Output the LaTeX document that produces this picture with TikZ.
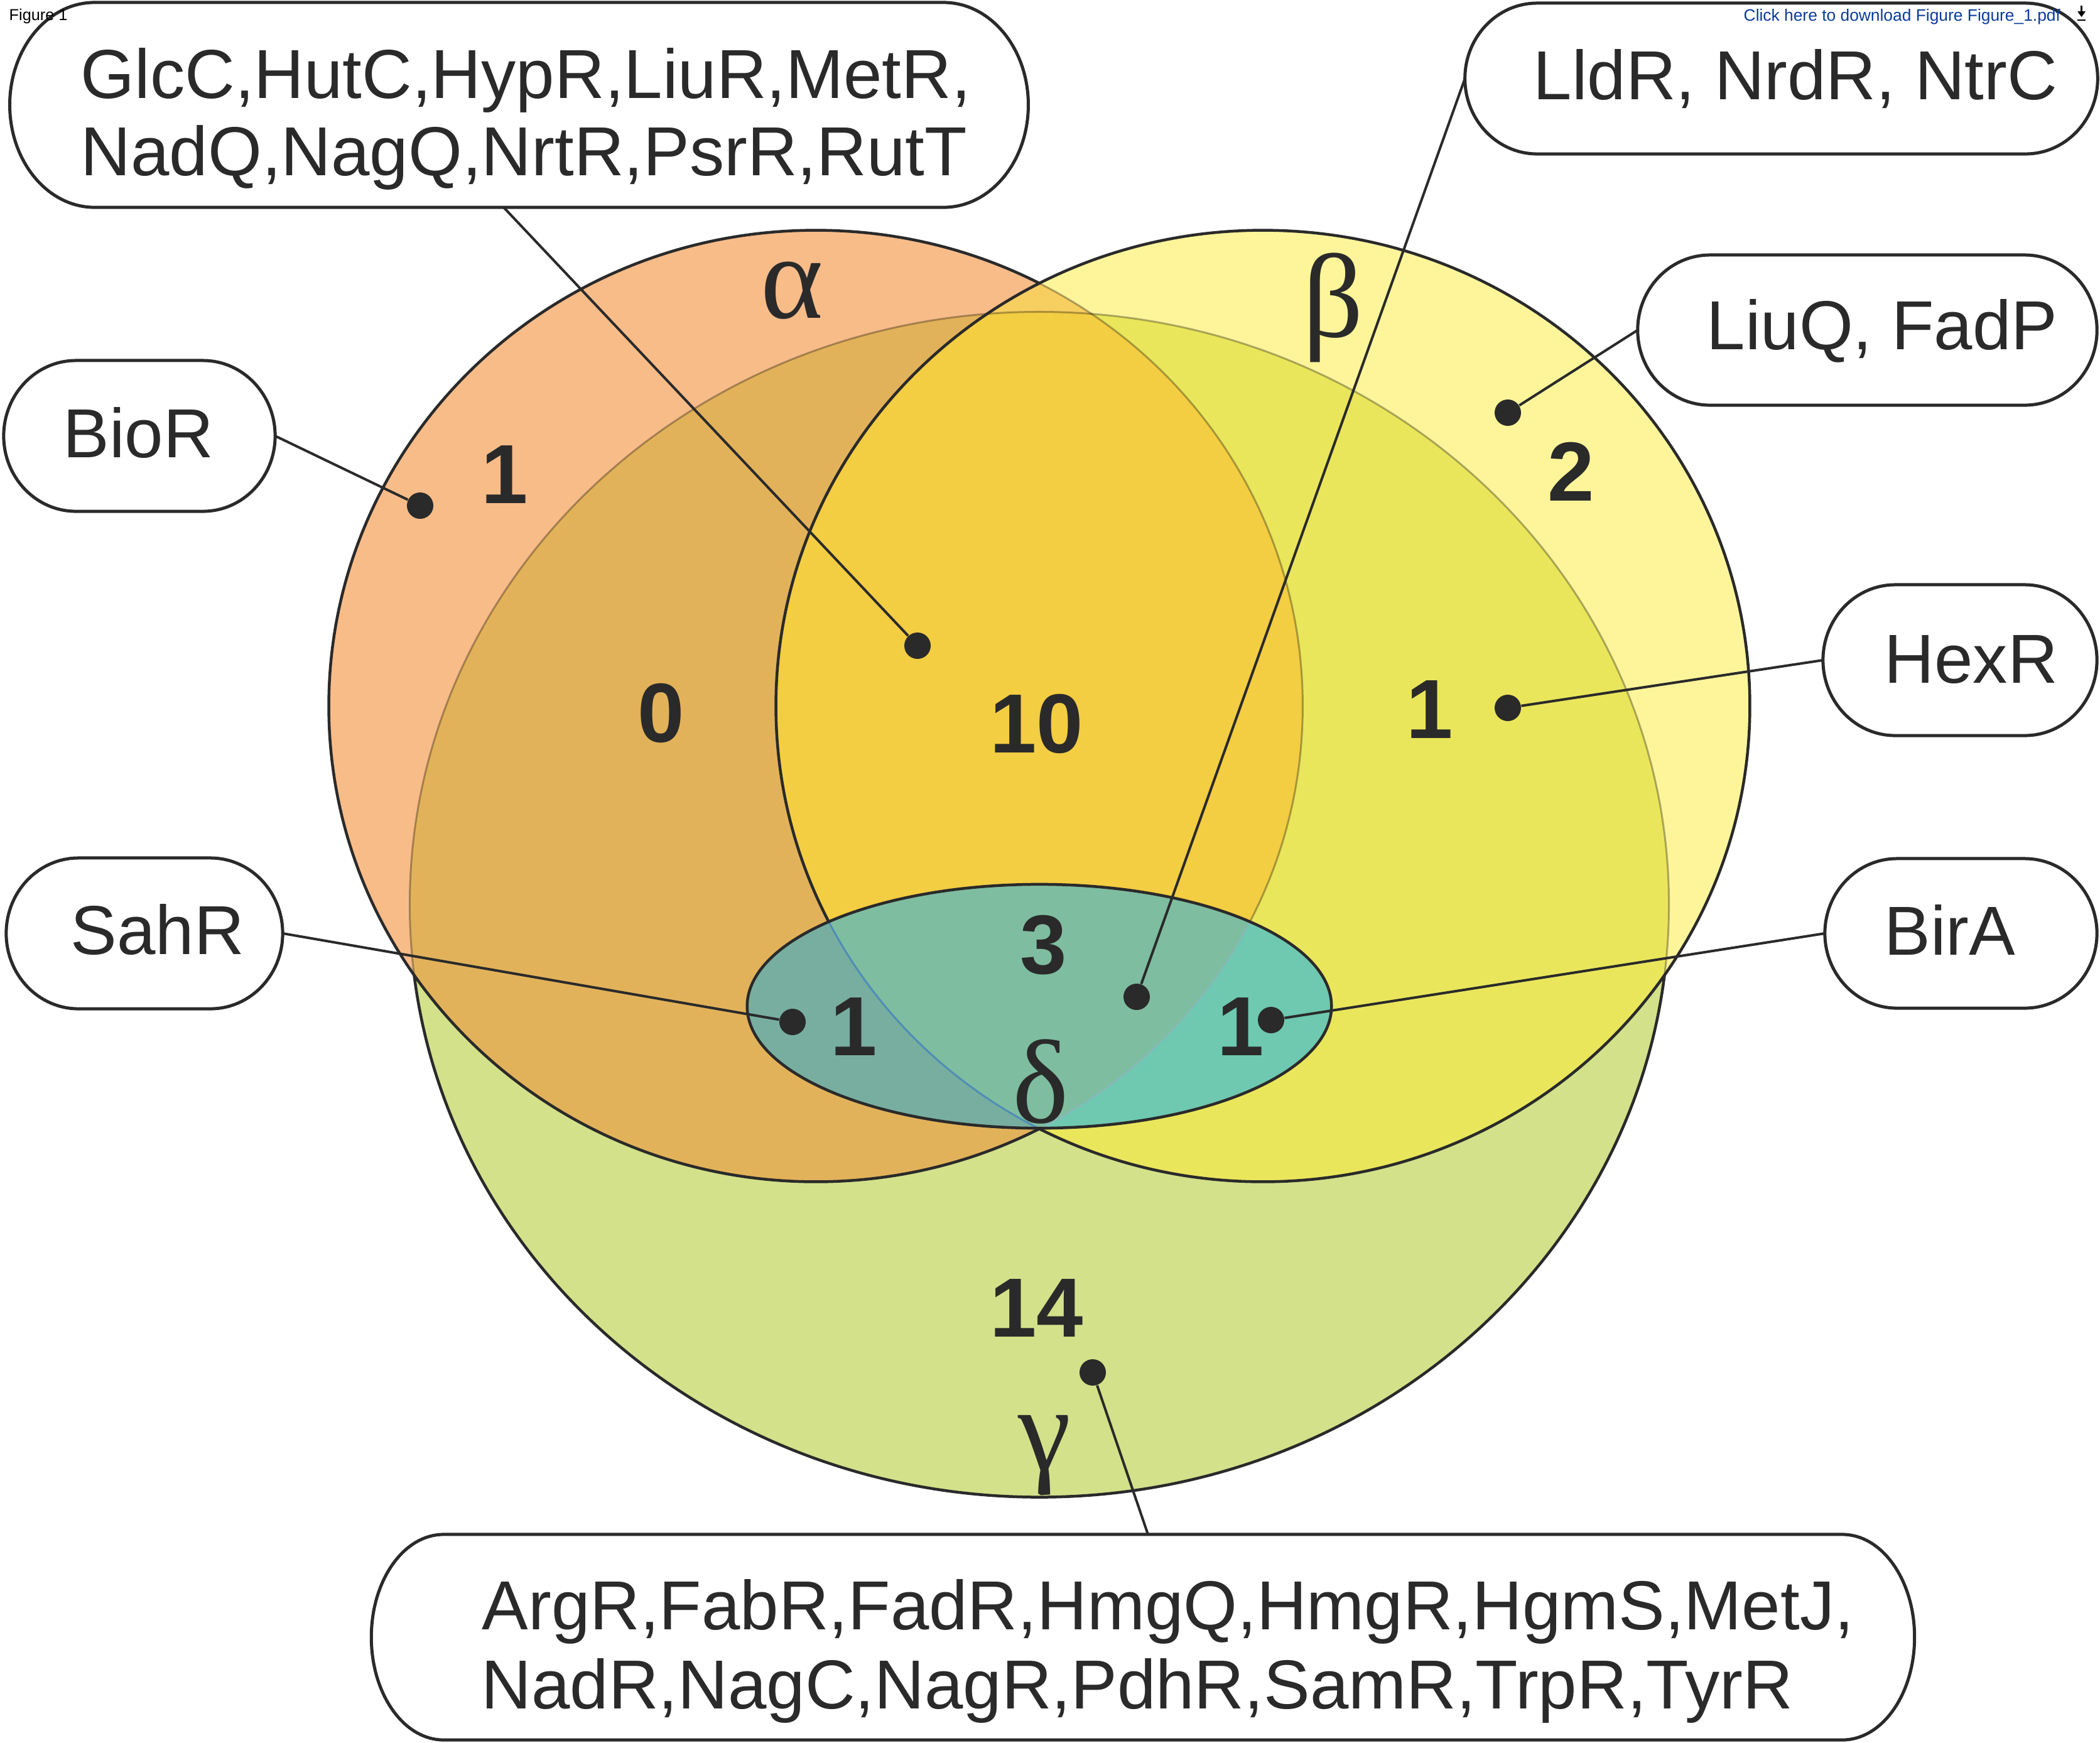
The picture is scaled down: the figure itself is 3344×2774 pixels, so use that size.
\documentclass[tikz,border=0pt]{standalone}
\usepackage{fontspec}
\setmainfont{Liberation Sans}
\newfontfamily\greekfont{Liberation Serif}

\definecolor{ink}{HTML}{2A2A2A}
\definecolor{aonly}{HTML}{F8BC89}
\definecolor{bonly}{HTML}{FEF59B}
\definecolor{gonly}{HTML}{D3E18A}
\definecolor{agfill}{HTML}{E2B25A}
\definecolor{bgfill}{HTML}{EAE65C}
\definecolor{abfill}{HTML}{F7CE60}
\definecolor{abgfill}{HTML}{F3CD42}
\definecolor{dleft}{HTML}{78AEA0}
\definecolor{dmid}{HTML}{7FBDA0}
\definecolor{dright}{HTML}{6FC8B0}
\definecolor{dedgeB}{HTML}{4F8DB5}
\definecolor{dedgeA}{HTML}{86B9B9}
\definecolor{linkblue}{HTML}{0B3C9A}

% the four sets (image pixel coordinates, y downwards)
\newcommand\vennA{(1299,1124) ellipse [x radius=7.75cm, y radius=7.57cm]}
\newcommand\vennB{(2011,1124) ellipse [x radius=7.75cm, y radius=7.57cm]}
\newcommand\vennG{(1655,1440) ellipse [x radius=10.02cm, y radius=9.43cm]}
\newcommand\vennD{(1655,1602) ellipse [x radius=4.65cm, y radius=1.94cm]}

% capsule outline around an (invisible) box node: node, end x-radius, end y-radius
\newcommand\capsule[3]{%
  \filldraw[fill=white, draw=ink, line width=0.05cm]
    ([xshift=#2]#1.north west) -- ([xshift=-#2]#1.north east)
    arc[start angle=90, end angle=-90, x radius=#2, y radius=#3]
    -- ([xshift=#2]#1.south west)
    arc[start angle=270, end angle=90, x radius=#2, y radius=#3] -- cycle;}

\begin{document}
\begin{tikzpicture}[x=0.01cm, y=-0.01cm,
  outline/.style={draw=ink, line width=0.045cm},
  faint/.style={draw=black, draw opacity=0.3, line width=0.03cm},
  link/.style={draw=ink, line width=0.04cm},
  dot/.style={circle, fill=ink, inner sep=0pt, minimum size=0.42cm},
  box/.style={inner sep=0pt, outer sep=0pt, draw=none},
  names/.style={text=ink, inner sep=0pt, anchor=base west,
    font=\fontsize{31.4pt}{35.6pt}\selectfont},
  count/.style={text=ink, inner sep=0pt,
    font=\fontsize{38pt}{40pt}\selectfont\bfseries},
  greek/.style={text=ink, inner sep=0pt,
    font=\fontsize{54pt}{58pt}\greekfont}]

\useasboundingbox (0,0) rectangle (3344,2774);
\fill[white] (0,0) rectangle (3344,2774);

% gamma underneath, with its outer outline
\fill[gonly] \vennG;
\draw[outline] \vennG;

% alpha and beta
\fill[aonly] \vennA;
\fill[bonly] \vennB;
\begin{scope}
  \clip \vennG;
  \fill[agfill] \vennA;
  \fill[bgfill] \vennB;
\end{scope}
\begin{scope}
  \clip \vennA;
  \fill[abfill] \vennB;
  \begin{scope}
    \clip \vennG;
    \fill[abgfill] \vennB;
  \end{scope}
\end{scope}

% edges seen through the overlapping sets
\begin{scope}
  \clip \vennA;
  \draw[faint] \vennG;
\end{scope}
\begin{scope}[even odd rule]
  \clip \vennB;
  \clip (-100,-100) rectangle (3500,2900) \vennA;
  \draw[faint] \vennG;
\end{scope}
\begin{scope}
  \clip \vennB;
  \draw[faint] \vennA;
\end{scope}
\begin{scope}[even odd rule]
  \clip (-100,-100) rectangle (3500,2900) \vennB;
  \draw[outline] \vennA;
\end{scope}
\draw[outline] \vennB;

% delta on top
\fill[dleft] \vennD;
\begin{scope}
  \clip \vennD;
  \clip \vennB;
  \fill[dright] \vennD;
  \clip \vennA;
  \fill[dmid] \vennD;
\end{scope}
\begin{scope}
  \clip \vennD;
  \draw[draw=dedgeB, line width=0.03cm] \vennB;
  \draw[draw=dedgeA, line width=0.025cm] \vennA;
\end{scope}
\draw[outline] \vennD;

% counts
\node[count] (nA)   at (804,756)   {1};
\node[count] (nAG)  at (1053,1135) {0};
\node[count] (nABG) at (1651,1152) {10};
\node[count] (nBG)  at (2277,1130) {1};
\node[count] (nB)   at (2502,751)  {2};
\node[count] (nD)   at (1662,1505) {3};
\node[count] (nDA)  at (1360,1634) {1};
\node[count] (nDB)  at (1976,1634) {1};
\node[count] (nG)   at (1651,2082) {14};

% set names
\node[greek] (la) at (1261,463)  {α};
\node[greek] (lb) at (2123,490)  {β};
\node[greek] (ld) at (1657,1722) {δ};
\node[greek] (lg) at (1663,2317) {γ};

% label boxes
\node[box, minimum width=16.21cm, minimum height=3.26cm] (tlbox) at (826.5,167) {};
\node[box, minimum width=10.07cm, minimum height=2.40cm] (lldr) at (2836.5,125) {};
\node[box, minimum width=7.31cm, minimum height=2.39cm] (liuq) at (2973.5,525.5) {};
\node[box, minimum width=4.36cm, minimum height=2.40cm] (hexr) at (3121,1051) {};
\node[box, minimum width=4.33cm, minimum height=2.38cm] (bira) at (3122.5,1486) {};
\node[box, minimum width=4.32cm, minimum height=2.40cm] (bior) at (222,694) {};
\node[box, minimum width=4.40cm, minimum height=2.40cm] (sahr) at (230,1486) {};
\node[box, minimum width=24.56cm, minimum height=3.27cm] (botbox) at (1820,2606.5) {};

\capsule{tlbox}{1.35cm}{1.63cm}
\capsule{lldr}{1.15cm}{1.20cm}
\capsule{liuq}{1.15cm}{1.195cm}
\capsule{hexr}{1.15cm}{1.20cm}
\capsule{bira}{1.15cm}{1.19cm}
\capsule{bior}{1.15cm}{1.20cm}
\capsule{sahr}{1.15cm}{1.20cm}
\capsule{botbox}{1.15cm}{1.635cm}

\node[names] (tl1) at (128,156) {GlcC,HutC,HypR,LiuR,MetR,};
\node[names] (tl2) at (128,279) {NadQ,NagQ,NrtR,PsrR,RutT};
\node[names] (lldrt) at (2441,158) {LldR, NrdR, NtrC};
\node[names] (liuqt) at (2717,556) {LiuQ, FadP};
\node[names] (hexrt) at (3000,1087) {HexR};
\node[names] (birat) at (3000,1520) {BirA};
\node[names] (biort) at (100,728) {BioR};
\node[names] (sahrt) at (112,1519) {SahR};
\node[names] (bot1) at (767,2594) {ArgR,FabR,FadR,HmgQ,HmgR,HgmS,MetJ,};
\node[names] (bot2) at (766,2720) {NadR,NagC,NagR,PdhR,SamR,TrpR,TyrR};

% pointers
\node[dot] (dA)   at (669,805)   {};
\node[dot] (dABG) at (1461,1028) {};
\node[dot] (dDA)  at (1262,1627) {};
\node[dot] (dD)   at (1810,1587) {};
\node[dot] (dDB)  at (2024,1624) {};
\node[dot] (dB)   at (2401,657)  {};
\node[dot] (dBG)  at (2401,1127) {};
\node[dot] (dG)   at (1740,2185) {};

\draw[link] (dABG) -- ([xshift=-0.245cm]tlbox.south);
\draw[link] (dA) -- (bior.east);
\draw[link] (dDA) -- (sahr.east);
\draw[link] (dD) -- (lldr.west);
\draw[link] (dB) -- (liuq.west);
\draw[link] (dBG) -- (hexr.west);
\draw[link] (dDB) -- (bira.west);
\draw[link] (dG) -- ([xshift=0.08cm]botbox.north);

% page header
\node[anchor=base west, inner sep=0pt, text=black,
  font=\fontsize{7.2pt}{8pt}\selectfont] (fig) at (14,32) {Figure 1};
\node[anchor=base west, inner sep=0pt, text=linkblue,
  font=\fontsize{7.5pt}{9pt}\selectfont] (dlink) at (2776,33)
  {Click here to download Figure Figure\_1.pdf};
\fill[black] (3308,18) -- (3321,18) -- (3314.5,27) -- cycle;
\draw[black, line width=0.025cm] (3314.5,9) -- (3314.5,20);
\draw[black, line width=0.025cm] (3308,32) -- (3321,32);
\end{tikzpicture}
\end{document}
